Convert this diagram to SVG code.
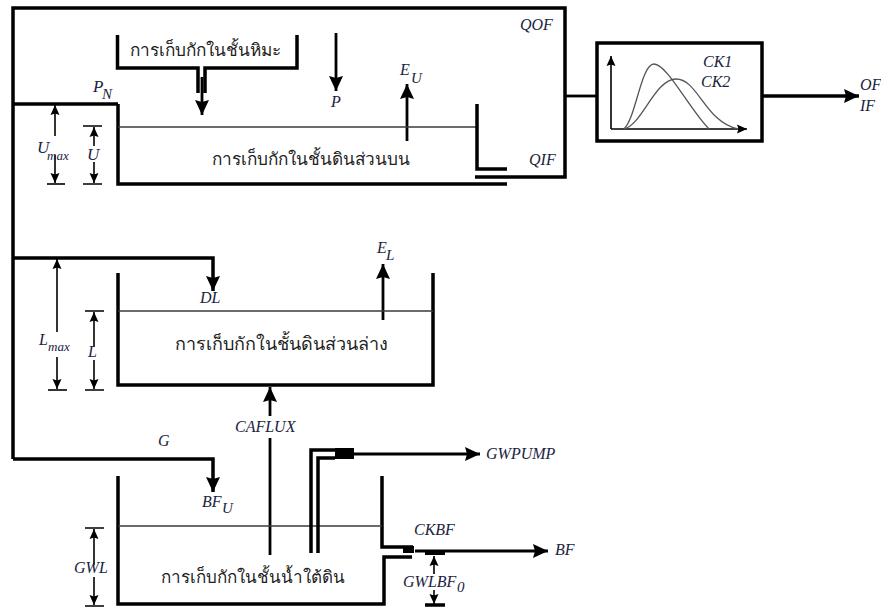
<svg xmlns="http://www.w3.org/2000/svg" width="881" height="607" viewBox="0 0 881 607">
<style>
.t{fill:none;stroke:#000;stroke-width:3.5}
.m{fill:none;stroke:#000;stroke-width:2.8}
.n{fill:none;stroke:#000;stroke-width:1.6}
.w{fill:none;stroke:#3a3a3a;stroke-width:1.3}
.c{fill:none;stroke:#555;stroke-width:1.3}
text{font-family:"Liberation Serif",serif;fill:#1a2440}
.l{font-style:italic;font-size:16px}
.s{font-style:italic;font-size:15px}
.x{font-style:italic;font-size:13px}
.h{font-size:17.200px;fill:#222;text-anchor:middle}
</style>
<defs>
<marker id="a" markerUnits="userSpaceOnUse" markerWidth="16" markerHeight="16" refX="15" refY="7.500" orient="auto"><path d="M0 0.500L15 7.500L0 14.500L2 7.500Z" fill="#000"/></marker>
<marker id="b" markerUnits="userSpaceOnUse" markerWidth="12" markerHeight="12" refX="10" refY="5" orient="auto"><path d="M0 0.500L10 5L0 9.500L1.500 5Z" fill="#000"/></marker>
</defs>
<g id="connectors">
<path class="t" d="M13 459V8H565V177H475"/>
<path class="t" d="M13 104H118"/>
<path class="t" d="M13 258H213V291" marker-end="url(#a)"/>
<path class="t" d="M13 459H213V492" marker-end="url(#a)"/>
<path class="m" d="M202 77V115" marker-end="url(#a)"/>
<path class="m" d="M336 33V91" marker-end="url(#a)"/>
<path class="m" d="M407 141V84" marker-end="url(#a)"/>
<path class="m" d="M383 320V264" marker-end="url(#a)"/>
<path class="m" d="M270 416V387" marker-end="url(#a)"/>
<path class="m" d="M270 438V555"/>
<path class="m" d="M565 96H596"/>
<path class="t" d="M763 96H859" marker-end="url(#a)"/>
<path class="m" d="M353 454H480" marker-end="url(#a)"/>
<path class="m" d="M415 551H548" marker-end="url(#a)"/>
<path class="n" d="M47 184H65"/>
<path class="n" d="M55 136V105" marker-end="url(#b)"/><path class="n" d="M55 155V183" marker-end="url(#b)"/>
<path class="n" d="M83 126H102M83 184H102"/>
<path class="n" d="M94 146V127" marker-end="url(#b)"/><path class="n" d="M94 162V183" marker-end="url(#b)"/>
<path class="n" d="M48 390H67"/>
<path class="n" d="M57 332V259" marker-end="url(#b)"/><path class="n" d="M57 357V389" marker-end="url(#b)"/>
<path class="n" d="M85 311H104M85 390H104"/>
<path class="n" d="M94 347V312" marker-end="url(#b)"/><path class="n" d="M94 360V389" marker-end="url(#b)"/>
<path class="n" d="M85 528H104M85 606H104"/>
<path class="n" d="M94 565V529" marker-end="url(#b)"/><path class="n" d="M94 577V605" marker-end="url(#b)"/>
<path class="n" d="M434 574V556" marker-end="url(#b)"/><path class="n" d="M434 590V604" marker-end="url(#b)"/>
<path class="t" d="M425 605H445"/>
</g>
<g id="snow-store">
<path class="t" d="M117.500 35V68H198V93M205 93V68H297V35"/>
<text class="h" x="205" y="56" style="font-size:17.200px">การเก็บกักในชั้นหิมะ</text>
</g>
<g id="upper-store">
<path class="t" d="M118 104V184H507"/>
<path class="w" d="M118 127H477"/>
<path class="t" d="M477 104V169H507"/>
<text class="h" x="311" y="165">การเก็บกักในชั้นดินส่วนบน</text>
</g>
<g id="lower-store">
<path class="t" d="M118 273V385H433V273"/>
<path class="w" d="M118 311H433"/>
<text class="h" x="281" y="350" style="font-size:18px">การเก็บกักในชั้นดินส่วนล่าง</text>
</g>
<g id="groundwater-store">
<path class="t" d="M118 476V604H384V557H412"/>
<path class="t" d="M382 476V547H413"/>
<path class="w" d="M118 526H382"/>
<rect x="403" y="546" width="11" height="7" fill="#000"/>
<rect x="425" y="551" width="20" height="4" fill="#000"/>
<path class="t" d="M311 553V450H335M318 553V458H335"/>
<rect x="335" y="448" width="19" height="11" fill="#000"/>
<text class="h" x="252.500" y="583" style="font-size:17px">การเก็บกักในชั้นน้ำใต้ดิน</text>
</g>
<g id="routing-box">
<rect x="597" y="43" width="165" height="98" fill="#fff" stroke="#000" stroke-width="3.500"/>
<path class="n" d="M611 129V56" marker-end="url(#b)"/>
<path class="n" d="M611 129H747" marker-end="url(#b)"/>
<path class="c" d="M624 129C636 118 641 64 654 64C667 64 690 110 709 129"/>
<path class="c" d="M624 129C642 125 655 79 676 79C698 79 705 122 738 129"/>
<text class="l" x="703" y="67">CK1</text>
<text class="l" x="701" y="87">CK2</text>
</g>
<g id="labels">
<text class="l" x="520" y="30">QOF</text>
<text class="l" x="529" y="165">QIF</text>
<text class="l" x="93" y="92" style="font-size:17px">P</text><text class="s" x="102" y="99">N</text>
<text class="l" x="331" y="107">P</text>
<text class="l" x="400" y="75">E</text><text class="s" x="411" y="83">U</text>
<text class="l" x="37" y="153" style="font-size:17px">U</text><text class="x" x="47" y="160">max</text>
<text class="l" x="87" y="160" style="font-size:17px">U</text>
<text class="l" x="377" y="253">E</text><text class="s" x="386" y="260">L</text>
<text class="l" x="200" y="303">DL</text>
<text class="l" x="39" y="345">L</text><text class="x" x="48" y="351">max</text>
<text class="l" x="88" y="357">L</text>
<text class="l" x="235" y="432">CAFLUX</text>
<text class="l" x="158" y="446">G</text>
<text class="l" x="202" y="507">BF</text><text class="s" x="222" y="513">U</text>
<text class="l" x="74" y="573">GWL</text>
<text class="l" x="486" y="459">GWPUMP</text>
<text class="l" x="414" y="535">CKBF</text>
<text class="l" x="555" y="555">BF</text>
<text class="l" x="403" y="587">GWLBF</text><text class="s" x="457" y="592">0</text>
<text class="l" x="860" y="90">OF</text>
<text class="l" x="860" y="111">IF</text>
</g>
</svg>
